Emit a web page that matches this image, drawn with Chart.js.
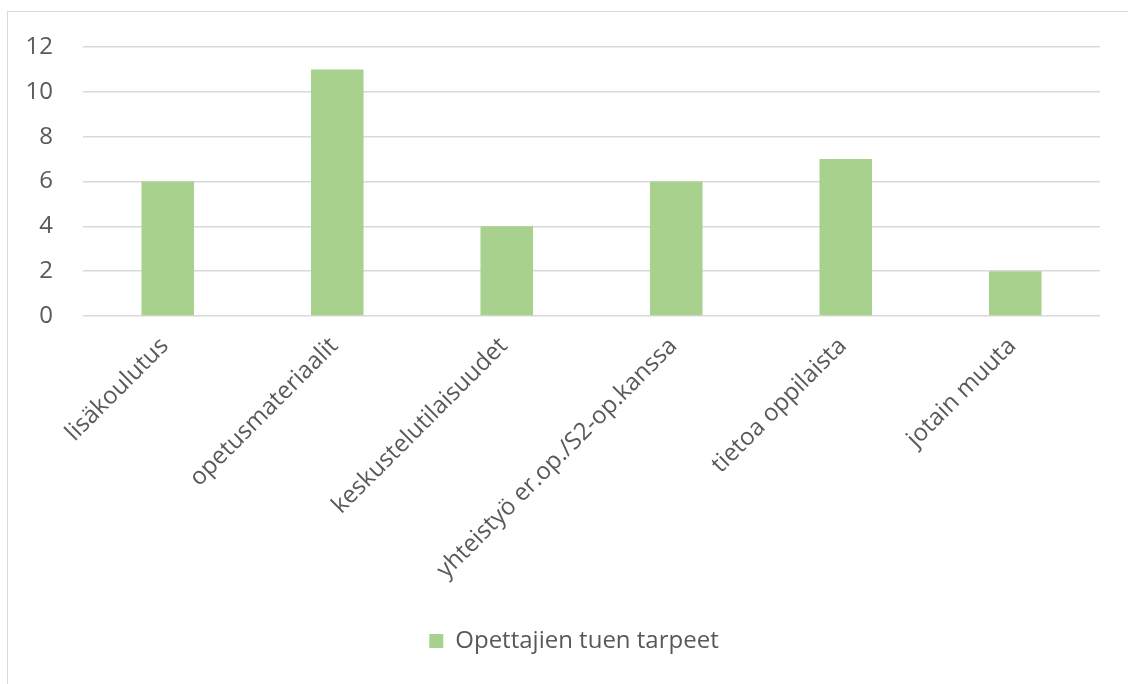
<!DOCTYPE html>
<html>
<head>
<meta charset="utf-8">
<script src="https://cdn.jsdelivr.net/npm/chart.js@4"></script>
<style>
  body { margin: 0; background: #fff; }
  #frame {
    position: absolute; left: 7px; top: 11px; width: 1121px; height: 673px;
    border-top: 1px solid #d9d9d9; border-left: 1px solid #d9d9d9;
  }
</style>
</head>
<body>
<div id="frame"><canvas id="chart"></canvas></div>
<script>
const categories = ["lisäkoulutus", "opetusmateriaalit", "keskustelutilaisuudet", "yhteistyö er.op./S2-op.kanssa", "tietoa oppilaista", "jotain muuta"];
const values = [6, 11, 4, 6, 7, 2];
const seriesName = "Opettajien tuen tarpeet";

const textColor = "#595959";
const fontFamily = "'Open Sans', sans-serif";

// the original legend sits a little right of the plot's centre
const shiftLegend = {
  id: "shiftLegend",
  afterLayout(chart) {
    chart.legend.left += 20;
    chart.legend.right += 20;
  }
};

new Chart(document.getElementById("chart"), {
  type: "bar",
  data: {
    labels: categories,
    datasets: [{
      label: seriesName,
      data: values,
      backgroundColor: "#a9d18e",
      barPercentage: 0.31,
      categoryPercentage: 1
    }]
  },
  plugins: [shiftLegend],
  options: {
    responsive: true,
    maintainAspectRatio: false,
    animation: false,
    layout: { padding: { top: 35, right: 29, bottom: 22, left: 0 } },
    plugins: {
      tooltip: { enabled: false },
      legend: {
        position: "bottom",
        labels: {
          color: textColor,
          font: { family: fontFamily, size: 24 },
          boxWidth: 14,
          boxHeight: 14,
          padding: 10
        }
      }
    },
    scales: {
      x: {
        grid: { display: false },
        border: { display: false },
        ticks: {
          color: textColor,
          font: { family: fontFamily, size: 24 },
          minRotation: 45,
          maxRotation: 45,
          padding: 8,
          labelOffset: -3
        },
        afterFit: scale => { scale.height = 303; }
      },
      y: {
        min: 0,
        max: 12,
        ticks: {
          stepSize: 2,
          color: textColor,
          font: { family: fontFamily, size: 24 },
          padding: 30
        },
        grid: { color: "#d9d9d9", lineWidth: 1.5, drawTicks: false },
        border: { display: false },
        afterFit: scale => {
          scale.width = 75;
          scale.paddingTop = 0;
          scale.paddingBottom = 0;
        }
      }
    }
  }
});
</script>
</body>
</html>
